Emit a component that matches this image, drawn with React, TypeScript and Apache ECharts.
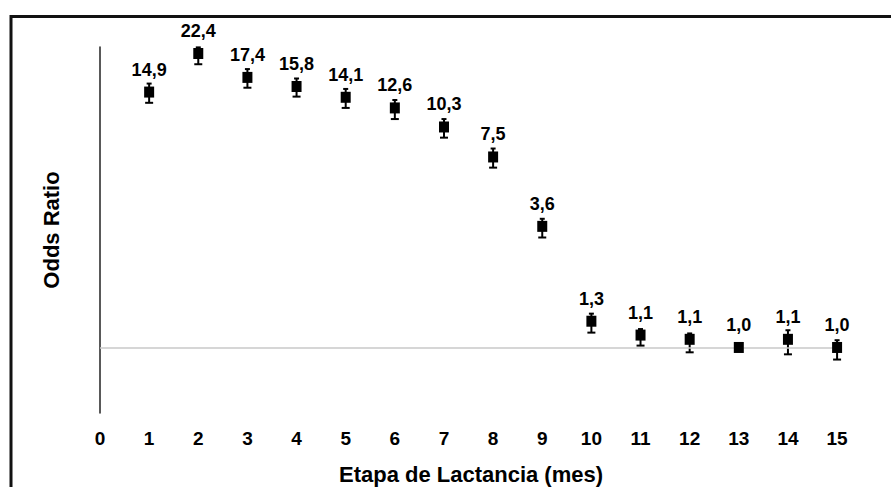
import React, { useEffect, useRef } from "react";
import * as echarts from "echarts";

const months = [1, 2, 3, 4, 5, 6, 7, 8, 9, 10, 11, 12, 13, 14, 15];
const oddsRatio = [14.9, 22.4, 17.4, 15.8, 14.1, 12.6, 10.3, 7.5, 3.6, 1.32, 1.14, 1.09, 1.0, 1.09, 1.0];
const ciLower = [13.3, 20.0, 15.6, 14.2, 12.6, 11.2, 9.2, 6.7, 3.2, 1.17, 1.02, 0.95, 1.0, 0.93, 0.88];
const ciUpper = [16.3, 23.9, 19.0, 17.2, 15.4, 13.7, 11.2, 8.2, 3.9, 1.43, 1.215, 1.16, 1.0, 1.2, 1.08];
const xTicks = [0, 1, 2, 3, 4, 5, 6, 7, 8, 9, 10, 11, 12, 13, 14, 15];

const FONT = "'Liberation Sans', Arial, sans-serif";

export default function App() {
  const ref = useRef<HTMLDivElement>(null);
  useEffect(() => {
    if (!ref.current) return;
    const chart = echarts.init(ref.current, null, { renderer: "svg" });
    const points = months.map((m, i) => [m, oddsRatio[i]]);
    const bars = months.map((m, i) => [m, ciLower[i], ciUpper[i]]);
    chart.setOption({
      animation: false,
      backgroundColor: "#ffffff",
      textStyle: { fontFamily: FONT },
      graphic: [
        {
          type: "rect",
          shape: { x: 11, y: 16.5, width: 1000, height: 1000 },
          style: { fill: "none", stroke: "#111", lineWidth: 3 },
          silent: true,
        },
      ],
      grid: { left: 100, top: 47, width: 742, height: 366, outerBoundsMode: "none", containLabel: false },
      xAxis: {
        type: "value",
        min: 0,
        max: 15.1,
        interval: 1,
        axisLine: { show: false },
        axisTick: { show: false },
        splitLine: { show: false },
        axisLabel: {
          color: "#000",
          fontWeight: "bold",
          fontSize: 19,
          fontFamily: FONT,
          margin: 16,
          formatter: (v: number) => (xTicks.indexOf(v) >= 0 ? String(v) : ""),
        },
        name: "Etapa de Lactancia (mes)",
        nameLocation: "middle",
        nameGap: 50,
        nameTextStyle: { color: "#000", fontWeight: "bold", fontSize: 22, fontFamily: FONT },
      },
      yAxis: {
        type: "log",
        logBase: 10,
        min: 0.5,
        max: 24,
        axisLine: { show: true, lineStyle: { color: "#222", width: 1.5 } },
        axisTick: { show: false },
        axisLabel: { show: false },
        splitLine: { show: false },
        minorSplitLine: { show: false },
        name: "Odds Ratio",
        nameLocation: "middle",
        nameGap: 38,
        nameTextStyle: { color: "#000", fontWeight: "bold", fontSize: 22, fontFamily: FONT },
      },
      series: [
        {
          type: "line",
          data: [],
          z: 0,
          markLine: {
            silent: true,
            symbol: "none",
            label: { show: false },
            lineStyle: { color: "#c8c8c8", width: 1.5, type: "solid" },
            data: [{ yAxis: 1 }],
          },
        },
        {
          type: "custom",
          clip: false,
          data: bars,
          z: 3,
          renderItem: (params: any, api: any) => {
            const x = api.value(0);
            const lo = api.value(1);
            const hi = api.value(2);
            if (lo === hi) return null;
            const pLo = api.coord([x, lo]);
            const pHi = api.coord([x, hi]);
            const style = { stroke: "#000", lineWidth: 2 };
            return {
              type: "group",
              children: [
                { type: "line", shape: { x1: pLo[0], y1: pLo[1], x2: pHi[0], y2: pHi[1] }, style },
                { type: "line", shape: { x1: pLo[0] - 4, y1: pLo[1], x2: pLo[0] + 4, y2: pLo[1] }, style },
                { type: "line", shape: { x1: pHi[0] - 2.5, y1: pHi[1], x2: pHi[0] + 2.5, y2: pHi[1] }, style },
              ],
            };
          },
        },
        {
          type: "scatter",
          data: points,
          symbol: "rect",
          symbolSize: [10, 11],
          z: 5,
          itemStyle: { color: "#000", opacity: 1 },
          label: {
            show: true,
            position: "top",
            distance: 8,
            color: "#000",
            fontWeight: "bold",
            fontSize: 18,
            fontFamily: FONT,
            formatter: (p: any) => Number(p.value[1]).toFixed(1).replace(".", ","),
          },
        },
      ],
    });
    return () => chart.dispose();
  }, []);
  return (
    <div
      ref={ref}
      style={{ position: "fixed", left: 0, top: 0, width: 891, height: 487, background: "#fff" }}
    />
  );
}
